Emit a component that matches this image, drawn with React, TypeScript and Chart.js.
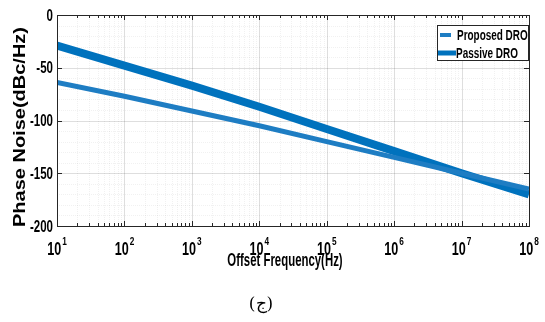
import React, { useEffect, useRef } from "react";
import { Chart, registerables } from "chart.js";

Chart.register(...registerables);

const freqs = [1e1, 1e2, 1e3, 1e4, 1e5, 1e6, 1e7, 1e8];
const proposedDRO = [-64, -77, -91, -105, -120, -135, -150, -165];
const passiveDRO = [-29, -48, -67, -87, -108, -129, -150, -170];
const yTicks = [0, -50, -100, -150, -200];
const xExponents = [1, 2, 3, 4, 5, 6, 7, 8];
const seriesNames = ["Proposed DRO", "Passive DRO"];
const xTitle = "Offset Frequency(Hz)";
const yTitle = "Phase Noise(dBc/Hz)";
const caption = "(ج)";

const FONT = '"Liberation Sans", Arial, Helvetica, sans-serif';

function txt(
  ctx: CanvasRenderingContext2D,
  s: string,
  x: number,
  y: number,
  size: number,
  sx: number,
  align: CanvasTextAlign
) {
  ctx.save();
  ctx.translate(x, y);
  ctx.scale(sx, 1);
  ctx.font = `bold ${size}px ${FONT}`;
  ctx.textAlign = align;
  ctx.textBaseline = "alphabetic";
  ctx.fillText(s, 0, 0);
  ctx.restore();
}

const decorPlugin = {
  id: "decor",
  beforeDatasetsDraw(chart: any) {
    const { ctx, chartArea: a, scales } = chart;
    const xs = scales.x;
    const ys = scales.y;
    ctx.save();
    ctx.lineWidth = 1;
    for (let e = 1; e < 8; e++) {
      for (let k = 1; k <= 9; k++) {
        const v = k * Math.pow(10, e);
        const px = Math.round(xs.getPixelForValue(v)) + 0.5;
        ctx.strokeStyle = k === 1 ? "rgba(0,0,0,0.13)" : "rgba(0,0,0,0.055)";
        ctx.setLineDash(k === 1 ? [] : [1, 1]);
        ctx.beginPath();
        ctx.moveTo(px, a.top);
        ctx.lineTo(px, a.bottom);
        ctx.stroke();
      }
    }
    for (let v = 0; v >= -200; v -= 10) {
      const py = Math.round(ys.getPixelForValue(v)) + 0.5;
      const major = v % 50 === 0;
      ctx.strokeStyle = major ? "rgba(0,0,0,0.13)" : "rgba(0,0,0,0.055)";
      ctx.setLineDash(major ? [] : [1, 1]);
      ctx.beginPath();
      ctx.moveTo(a.left, py);
      ctx.lineTo(a.right, py);
      ctx.stroke();
    }
    ctx.restore();
  },
  afterDraw(chart: any) {
    const { ctx, chartArea: a, scales } = chart;
    const xs = scales.x;
    const ys = scales.y;
    ctx.save();
    ctx.strokeStyle = "#262626";
    ctx.lineWidth = 1;
    ctx.setLineDash([]);
    ctx.beginPath();
    for (let e = 1; e <= 8; e++) {
      for (let k = 1; k <= 9; k++) {
        const v = k * Math.pow(10, e);
        if (v > 1e8) break;
        const px = Math.round(xs.getPixelForValue(v)) + 0.5;
        const len = k === 1 ? 5 : 3;
        ctx.moveTo(px, a.bottom);
        ctx.lineTo(px, a.bottom - len);
        ctx.moveTo(px, a.top);
        ctx.lineTo(px, a.top + len);
      }
    }
    yTicks.forEach((v) => {
      const py = Math.round(ys.getPixelForValue(v)) + 0.5;
      ctx.moveTo(a.left, py);
      ctx.lineTo(a.left + 5, py);
      ctx.moveTo(a.right, py);
      ctx.lineTo(a.right - 5, py);
    });
    ctx.stroke();
    ctx.strokeRect(Math.round(a.left) + 0.5, Math.round(a.top) + 0.5, Math.round(a.right - a.left), Math.round(a.bottom - a.top));

    ctx.fillStyle = "#000";
    yTicks.forEach((v) => {
      const py = ys.getPixelForValue(v);
      txt(ctx, String(v), a.left - 4, py + 5.5, 16, 0.72, "right");
    });
    xExponents.forEach((e) => {
      const px = xs.getPixelForValue(Math.pow(10, e));
      ctx.font = `bold 18px ${FONT}`;
      const wb = ctx.measureText("10").width * 0.7;
      ctx.font = `bold 11px ${FONT}`;
      const ws = ctx.measureText(String(e)).width * 0.75;
      const start = px - (wb + ws + 1) / 2;
      txt(ctx, "10", start, 255, 18, 0.7, "left");
      txt(ctx, String(e), start + wb + 1, 245, 11, 0.75, "left");
    });
    txt(ctx, xTitle, 285, 266, 19, 0.6, "center");
    ctx.save();
    ctx.translate(25, 127);
    ctx.rotate(-Math.PI / 2);
    ctx.scale(1, 0.78);
    ctx.font = `bold 20px ${FONT}`;
    ctx.textAlign = "center";
    ctx.textBaseline = "alphabetic";
    ctx.fillText(yTitle, 0, 0);
    ctx.restore();

    const lx0 = 437, ly0 = 25, lx1 = 529, ly1 = 61;
    ctx.fillStyle = "#fff";
    ctx.fillRect(lx0, ly0, lx1 - lx0, ly1 - ly0);
    ctx.strokeStyle = "#262626";
    ctx.strokeRect(lx0 + 0.5, ly0 + 0.5, lx1 - lx0 - 1, ly1 - ly0 - 1);
    ctx.lineCap = "butt";
    ctx.strokeStyle = "rgb(30,125,195)";
    ctx.lineWidth = 4;
    ctx.beginPath();
    ctx.moveTo(440, 35);
    ctx.lineTo(451, 35);
    ctx.stroke();
    ctx.strokeStyle = "rgb(0,114,189)";
    ctx.lineWidth = 5;
    ctx.beginPath();
    ctx.moveTo(438, 53);
    ctx.lineTo(456, 53);
    ctx.stroke();
    ctx.fillStyle = "#000";
    txt(ctx, seriesNames[0], 457, 40, 14, 0.71, "left");
    txt(ctx, seriesNames[1], 456, 58, 14, 0.71, "left");

    ctx.font = `17px "DejaVu Serif", "Liberation Serif", serif`;
    ctx.textAlign = "center";
    ctx.fillText(caption, 261, 309);
    ctx.restore();
  },
};

export default function App() {
  const ref = useRef<HTMLCanvasElement | null>(null);
  useEffect(() => {
    if (!ref.current) return;
    const chart = new Chart(ref.current, {
      type: "line",
      data: {
        datasets: [
          {
            label: seriesNames[0],
            data: freqs.map((f, i) => ({ x: f, y: proposedDRO[i] })),
            borderColor: "rgb(30,125,195)",
            borderWidth: 5,
            pointRadius: 0,
            tension: 0,
          },
          {
            label: seriesNames[1],
            data: freqs.map((f, i) => ({ x: f, y: passiveDRO[i] })),
            borderColor: "rgb(0,114,189)",
            borderWidth: 8,
            pointRadius: 0,
            tension: 0,
          },
        ],
      },
      options: {
        animation: false,
        responsive: false,
        devicePixelRatio: 1,
        layout: { padding: { left: 57, right: 16, top: 15, bottom: 96 } },
        plugins: { legend: { display: false }, tooltip: { enabled: false } },
        scales: {
          x: { type: "logarithmic", min: 10, max: 1e8, display: false },
          y: { type: "linear", min: -200, max: 0, display: false },
        },
      },
      plugins: [decorPlugin],
    });
    return () => chart.destroy();
  }, []);
  return (
    <div style={{ position: "absolute", left: 0, top: 0, width: 545, height: 322, background: "#fff" }}>
      <canvas ref={ref} width={545} height={322} style={{ width: 545, height: 322, display: "block" }} />
    </div>
  );
}
